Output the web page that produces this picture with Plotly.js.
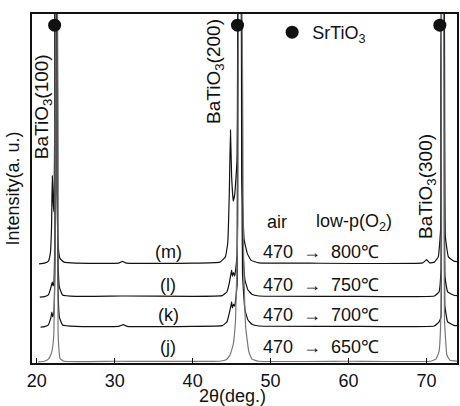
<!DOCTYPE html>
<html>
<head>
<meta charset="utf-8">
<script src="https://cdn.plot.ly/plotly-3.0.1.min.js"></script>
<style>html,body{margin:0;padding:0;background:#fff;}#chart{width:460px;height:406px;}</style>
</head>
<body>
<div id="chart"></div>
<script>
// ---- data (2θ in degrees, intensity in arbitrary units relative to each baseline) ----
const sampleNames = ["(m)", "(l)", "(k)", "(j)"];
const annealLabels = ["470 \u00a0→\u00a0 800℃", "470 \u00a0→\u00a0 750℃", "470 \u00a0→\u00a0 700℃", "470 \u00a0→\u00a0 650℃"];
const baselineOffsets = [28.4, 18.9, 10.3, 0.3];

const twoTheta_m = [20.3, 21.0, 21.5, 21.75, 21.9, 22.0, 22.1, 22.2, 22.3, 22.4, 22.5, 22.6, 22.8, 23.0, 23.5, 25.0, 30.5, 31.0, 31.5, 40.0, 43.5, 44.2, 44.5, 44.7, 44.85, 45.0, 45.2, 45.4, 45.7, 45.95, 46.1, 46.3, 46.6, 47.0, 47.5, 48.5, 55.0, 69.5, 70.0, 70.4, 71.0, 71.5, 71.8, 72.0, 72.15, 72.4, 72.8, 73.5, 74.3];
const intensity_m = [0, 0.2, 0.8, 3, 10, 25.2, 18, 15, 35, 95, 95, 20, 4, 1.5, 0.5, 0.2, 0.2, 0.7, 0.2, 0.2, 0.5, 2, 6, 20, 38.4, 25, 18, 20, 30, 95, 95, 25, 7, 3, 1, 0.3, 0.2, 0.3, 1.2, 0.3, 0.5, 2, 10, 95, 95, 8, 2, 0.8, 0.5];

const twoTheta_l = [20.4, 21.0, 21.5, 21.7, 21.85, 22.0, 22.1, 22.2, 22.35, 22.45, 22.55, 22.7, 22.9, 23.3, 25.0, 31.0, 40.0, 43.8, 44.4, 44.7, 44.9, 45.0, 45.1, 45.25, 45.4, 45.7, 45.95, 46.15, 46.4, 46.7, 47.1, 47.6, 48.5, 60.0, 71.0, 71.6, 71.85, 72.0, 72.15, 72.35, 72.7, 73.5, 74.3];
const intensity_l = [0, 0.1, 0.6, 1.8, 3, 4.3, 3.2, 4, 20, 90, 90, 15, 3, 0.6, 0.2, 0.3, 0.2, 0.4, 1.5, 4, 6.5, 7.7, 6.0, 7.0, 6, 12, 90, 90, 15, 5, 2, 0.8, 0.3, 0.2, 0.3, 1.5, 8, 90, 90, 6, 1.5, 0.5, 0.3];

const twoTheta_k = [20.5, 21.0, 21.5, 21.7, 21.85, 21.95, 22.05, 22.2, 22.35, 22.45, 22.55, 22.7, 22.9, 23.3, 25.0, 30.5, 31.1, 31.6, 40.0, 43.8, 44.4, 44.7, 44.9, 45.0, 45.1, 45.25, 45.4, 45.7, 45.95, 46.15, 46.4, 46.7, 47.1, 47.6, 48.5, 60.0, 71.0, 71.6, 71.85, 72.0, 72.15, 72.35, 72.7, 73.5, 74.3];
const intensity_k = [0, 0.1, 0.6, 1.8, 3, 4.3, 3.0, 4, 20, 100, 100, 15, 3, 0.6, 0.2, 0.2, 0.7, 0.2, 0.2, 0.4, 1.5, 4, 6.0, 7.2, 5.5, 6.5, 6, 12, 100, 100, 15, 5, 2, 0.8, 0.3, 0.2, 0.3, 1.5, 3, 100, 100, 6, 1.5, 0.5, 0.3];

const twoTheta_j = [20.2, 21.0, 21.5, 21.8, 22.0, 22.2, 22.35, 22.48, 22.6, 22.75, 23.0, 23.5, 30.0, 43.5, 44.3, 44.8, 45.2, 45.5, 45.8, 46.0, 46.2, 46.5, 46.8, 47.2, 47.6, 48.5, 60.0, 70.5, 71.2, 71.6, 71.85, 72.0, 72.1, 72.3, 72.6, 73.0, 74.3];
const intensity_j = [0, 0.2, 0.8, 2, 3.5, 8, 30, 110, 110, 8, 1, 0.2, 0.2, 0.2, 0.6, 2, 5, 12, 40, 110, 110, 35, 10, 3, 0.8, 0.2, 0.2, 0.2, 0.8, 3, 14, 110, 110, 12, 2, 0.5, 0.2];

const srtio3PeakTwoTheta = [22.3, 45.75, 71.7];
const srtio3MarkerLevel = [96.8, 96.8, 96.8];

const xTickValues = [20, 30, 40, 50, 60, 70];
const xTickText = ["20", "30", "40", "50", "60", "70"];

// ---- traces ----
const seriesX = [twoTheta_m, twoTheta_l, twoTheta_k, twoTheta_j];
const seriesY = [intensity_m, intensity_l, intensity_k, intensity_j];
const lineColors = ["#111", "#111", "#111", "#777"];

const traces = seriesX.map((xs, i) => ({
  type: "scatter", mode: "lines",
  x: xs,
  y: seriesY[i].map(v => v + baselineOffsets[i]),
  line: {color: lineColors[i], width: 1.2, shape: "spline", smoothing: 0.3},
  showlegend: false, hoverinfo: "skip"
}));
traces.push({
  type: "scatter", mode: "markers",
  x: srtio3PeakTwoTheta, y: srtio3MarkerLevel,
  marker: {color: "#111", size: 13},
  name: "SrTiO<sub>3</sub>", showlegend: true, cliponaxis: false
});

const F = "Liberation Sans, Arial, sans-serif";
function ann(text, x, y, extra) {
  return Object.assign({text: text, x: x, y: y, xref: "paper", yref: "paper",
    showarrow: false, xanchor: "center", yanchor: "middle",
    font: {family: F, size: 18, color: "#111"}}, extra || {});
}

const annotations = [
  ann("BaTiO<sub>3</sub>(100)", 0.026, 0.733, {textangle: -90, font: {family: F, size: 19, color: "#111"}}),
  ann("BaTiO<sub>3</sub>(200)", 0.4306, 0.834, {textangle: -90, font: {family: F, size: 19, color: "#111"}}),
  ann("BaTiO<sub>3</sub>(300)", 0.929, 0.507, {textangle: -90, font: {family: F, size: 19, color: "#111"}}),
  ann("air", 0.576, 0.404),
  ann("low-p(O<sub>2</sub>)", 0.757, 0.404),
  ann("Intensity(a. u.)", -0.047, 0.50, {textangle: -90}),
  ann("2θ(deg.)", 0.4706, -0.095)
];
const labelY = [0.318, 0.2235, 0.1375, 0.046];
sampleNames.forEach((s, i) => annotations.push(ann(s, 0.32, labelY[i])));
annealLabels.forEach((s, i) => annotations.push(ann(s, 0.681, labelY[i])));

const layout = {
  width: 460, height: 406,
  margin: {l: 32, r: 3, t: 14, b: 43},
  paper_bgcolor: "#fff", plot_bgcolor: "#fff",
  font: {family: F, size: 18, color: "#111"},
  xaxis: {
    range: [19.4, 73.9], tickvals: xTickValues, ticktext: xTickText,
    ticks: "inside", ticklen: 5, tickwidth: 1.5, tickcolor: "#111",
    showline: true, linewidth: 2, linecolor: "#111", mirror: true,
    showgrid: false, zeroline: false,
    tickfont: {family: F, size: 18, color: "#111"}
  },
  yaxis: {
    range: [0, 100], showticklabels: false, ticks: "",
    showline: true, linewidth: 2, linecolor: "#111", mirror: true,
    showgrid: false, zeroline: false
  },
  showlegend: true,
  legend: {x: 0.565, y: 1.0, xanchor: "left", yanchor: "top",
    bgcolor: "rgba(0,0,0,0)", borderwidth: 0,
    font: {family: F, size: 18, color: "#111"}},
  annotations: annotations
};

Plotly.newPlot("chart", traces, layout, {staticPlot: true, displayModeBar: false});
</script>
</body>
</html>
